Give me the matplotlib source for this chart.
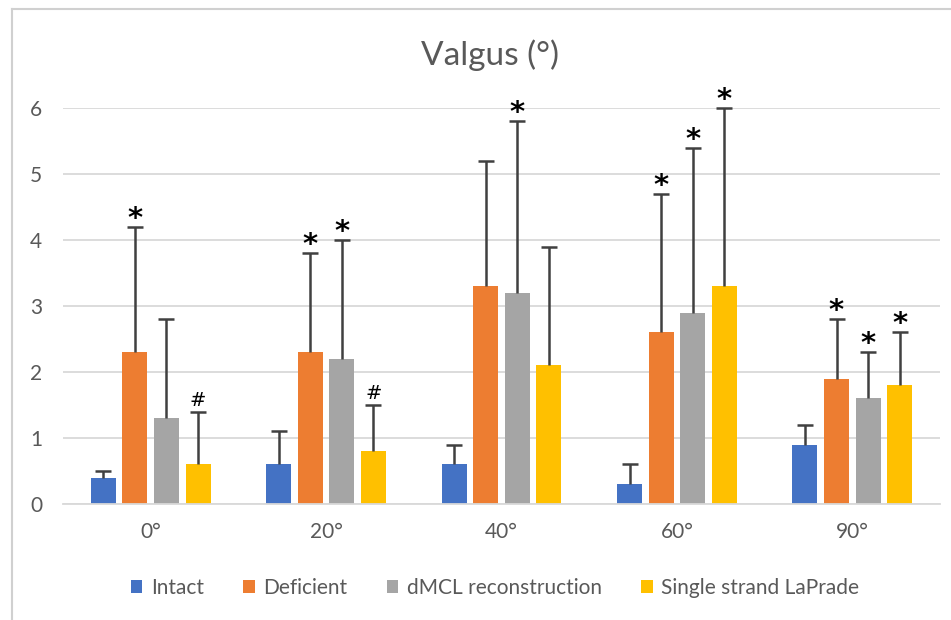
import numpy as np
import matplotlib.pyplot as plt
from matplotlib.lines import Line2D

plt.rcParams['font.family'] = ['Lato', 'DejaVu Sans']

angles = ['0°', '20°', '40°', '60°', '90°']
series = ['Intact', 'Deficient', 'dMCL reconstruction', 'Single strand LaPrade']
colors = ['#4472C4', '#ED7D31', '#A5A5A5', '#FFC000']

# mean values
intact = [0.4, 0.6, 0.6, 0.3, 0.9]
deficient = [2.3, 2.3, 3.3, 2.6, 1.9]
dmcl = [1.3, 2.2, 3.2, 2.9, 1.6]
laprade = [0.6, 0.8, 2.1, 3.3, 1.8]

# upper error (SD)
intact_sd = [0.1, 0.5, 0.3, 0.3, 0.3]
deficient_sd = [1.9, 1.5, 1.9, 2.1, 0.9]
dmcl_sd = [1.5, 1.8, 2.6, 2.5, 0.7]
laprade_sd = [0.8, 0.7, 1.8, 2.7, 0.8]

# significance marks per series, per angle
intact_sig = ['', '', '', '', '']
deficient_sig = ['*', '*', '', '*', '*']
dmcl_sig = ['', '*', '*', '*', '*']
laprade_sig = ['#', '#', '', '*', '*']

means = [intact, deficient, dmcl, laprade]
sds = [intact_sd, deficient_sd, dmcl_sd, laprade_sd]
sigs = [intact_sig, deficient_sig, dmcl_sig, laprade_sig]

fig = plt.figure(figsize=(9.51, 6.2), dpi=100)
ax = fig.add_axes([63 / 951, 1 - 504 / 620, 877 / 951, 396 / 620])

x = np.arange(len(angles))
step = 0.18
width = 0.142
txt = '#595959'
ecol = '#404040'

for i, (m, s, sg) in enumerate(zip(means, sds, sigs)):
    xs = x + (i - 1.5) * step
    top = np.array(m) + np.array(s)
    ax.bar(xs, m, width=width, color=colors[i], zorder=2, label=series[i])
    # upper-only error bars with a cap at the top
    ax.vlines(xs, m, top, color=ecol, linewidth=1.8, zorder=3)
    ax.plot(xs, top, linestyle='none', marker='_', markersize=12,
            markeredgewidth=1.8, color=ecol, zorder=3, clip_on=False)
    for xi, ti, mark in zip(xs, top, sg):
        if mark == '*':
            ax.annotate('*', (xi, ti), xytext=(0, 0), textcoords='offset points',
                        ha='center', va='baseline', fontsize=21, fontweight='bold',
                        color='black', family='DejaVu Sans', annotation_clip=False)
        elif mark == '#':
            ax.annotate('#', (xi, ti), xytext=(0, 1.5), textcoords='offset points',
                        ha='center', va='bottom', fontsize=14, color='black',
                        family='DejaVu Sans', annotation_clip=False)

ax.set_xlim(-0.5, len(angles) - 0.5)
ax.set_ylim(0, 6)
ax.set_yticks(range(0, 7))
ax.set_xticks(x)
ax.set_xticklabels(angles)
ax.yaxis.grid(True, color='#D9D9D9', linewidth=1.3, zorder=0)
ax.set_axisbelow(True)
for sp in ['top', 'right', 'left']:
    ax.spines[sp].set_visible(False)
ax.spines['bottom'].set_color('#D9D9D9')
ax.spines['bottom'].set_linewidth(1.3)
ax.tick_params(axis='both', length=0, labelsize=15, colors=txt)
ax.tick_params(axis='y', pad=15)
ax.tick_params(axis='x', pad=13)

fig.text(490 / 951, 1 - 55 / 620, 'Valgus (°)', ha='center', va='center',
         fontsize=24, color=txt)

fig.legend(loc='center', bbox_to_anchor=(495 / 951, 1 - 588 / 620), ncol=4,
           frameon=False, fontsize=15, labelcolor=txt, handlelength=0.55,
           handleheight=0.6, handletextpad=0.4, columnspacing=1.9)

# chart area border (cropped at right and bottom)
fig.add_artist(Line2D([12 / 951, 12 / 951], [0, 1 - 9 / 620], color='#D0D0D0',
                      linewidth=1.5, transform=fig.transFigure))
fig.add_artist(Line2D([12 / 951, 1], [1 - 9 / 620, 1 - 9 / 620], color='#D0D0D0',
                      linewidth=1.5, transform=fig.transFigure))

fig.savefig('out.png', dpi=100)
